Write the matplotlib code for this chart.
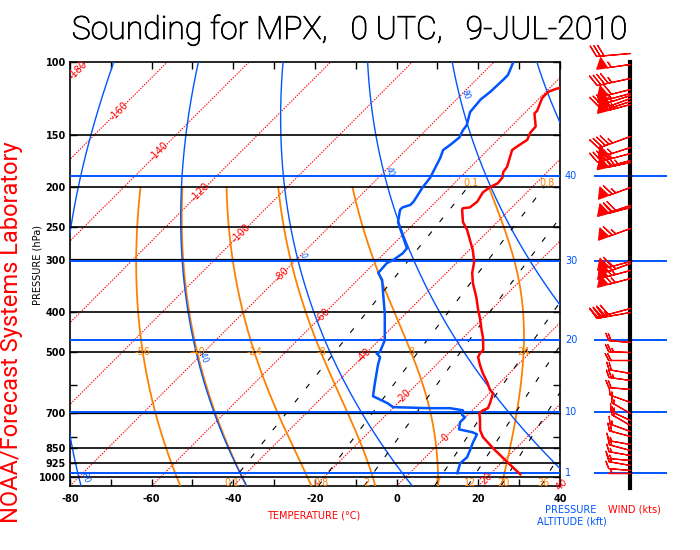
import numpy as np
import matplotlib
matplotlib.use("Agg")
import matplotlib.pyplot as plt
import matplotlib.patheffects as pe

# ------------------------------------------------------------------ data
temp_p = [984, 900, 852, 801, 771, 721, 701, 690, 682, 664, 628, 617, 590, 562,
          537, 514, 503, 494, 463, 443, 414, 396, 368, 341, 322, 303, 284, 254,
          243, 227, 225, 224, 217, 206, 200, 196, 190, 184, 179, 163, 161, 154,
          148, 143, 133, 131, 122, 118, 116, 114]
temp_c = [27.4, 19.3, 14.4, 9.2, 6.8, 3.8, 2.4, 2.6, 3.3, 2.6, 0.9, -0.6, -3.3, -6.5,
          -9.2, -11.6, -12.1, -12.1, -15.0, -17.3, -20.7, -23.1, -26.8, -31.0, -33.7,
          -35.9, -39.1, -45.4, -48.4, -51.6, -51.8, -50.3, -49.9, -50.8, -50.3, -49.4,
          -49.6, -50.8, -51.1, -54.0, -53.8, -52.8, -53.8, -54.0, -57.5, -57.5, -59.4,
          -59.4, -58.2, -55.5]

dwpt_p = [978, 926, 895, 861, 824, 788, 779, 767, 737, 717, 709, 690, 682, 682,
          678, 664, 638, 594, 537, 514, 503, 500, 468, 403, 360, 335, 322, 305,
          300, 289, 281, 243, 227, 224, 221, 217, 200, 190, 170, 163, 158, 152,
          146, 142, 132, 123, 118, 110.5, 107.5, 100.6]
dwpt_c = [11.7, 10.0, 10.2, 9.2, 8.0, 7.0, 5.3, 1.4, -0.1, -0.1, -1.3, -2.3, -6.0, -10.9,
          -20.2, -22.4, -27.8, -30.5, -34.2, -35.6, -37.4, -36.9, -38.6, -45.2, -50.6,
          -54.0, -56.7, -57.0, -56.2, -55.5, -55.7, -64.3, -66.8, -66.8, -65.5, -65.5,
          -66.8, -67.3, -69.7, -70.9, -70.4, -70.0, -70.9, -71.2, -73.6, -74.1, -73.6,
          -73.4, -73.4, -75.1]

wind_p = [95, 101, 109, 116, 119, 120, 122, 124, 126, 151, 160, 166, 172, 174, 200,
          221, 224, 251, 302, 305, 317, 332, 392, 400, 473, 500, 523, 562, 584, 612,
          660, 700, 730, 750, 775, 795, 830, 860, 885, 910, 935, 960, 978]
wind_dir = [265, 262, 258, 256, 255, 252, 250, 252, 255, 250, 252, 255, 255, 258, 250,
            252, 255, 250, 255, 250, 255, 255, 255, 260, 275, 272, 270, 280, 278, 275,
            290, 300, 295, 300, 290, 285, 280, 285, 280, 275, 280, 275, 270]
wind_spd = [30, 55, 45, 60, 55, 45, 50, 60, 65, 45, 55, 45, 55, 75, 65,
            70, 60, 65, 60, 70, 65, 65, 40, 35, 20, 25, 20, 20, 25, 20,
            15, 15, 15, 20, 15, 20, 15, 20, 15, 15, 15, 10, 5]

p_levels = [100, 150, 200, 250, 300, 400, 500, 700, 850, 925, 1000]
p_lines = [150, 200, 250, 300, 400, 500, 700, 850, 925, 1000]
p_minor = [600, 800]
t_ticks = [-80, -60, -40, -20, 0, 20, 40]

isotherms = list(range(-200, 41, 20))
dry_theta = [-80, -40, 0, 40, 80, 120]
dry_lab_theta = [-80, -40, 0, 40, 80]
dry_lab_p = [1000, 514, 292, 184, 120]
moist_thw = [-56, -40, -24, -8, 8, 24]
mix_r = [0.1, 0.8, 2, 7, 12, 20, 36]
mix_lab = ["0.1", "0.8", "2", "7", "12", "20", "36"]
mix_top = ["0.1", "0.8"]

alt_kft = ["1", "10", "20", "30", "40"]
alt_p = [977, 697, 466, 301, 188]

# ------------------------------------------------------------------ helpers
PBOT, PTOP = 1050.0, 100.0
K = 44.16  # skew: degC per ln(p) unit so isotherms are at 45 deg

RED = "#ff0000"
BLUE = "#0055ff"
ORANGE = "#ff8000"
SANS = ["Roboto", "Open Sans", "Lato", "DejaVu Sans"]


def skx(t, p):
    return np.asarray(t, float) + K * np.log(PBOT / np.asarray(p, float))


def es(tc):
    return 6.112 * np.exp(17.67 * tc / (tc + 243.5))


def td_from_r(r_gkg, p):
    r = r_gkg / 1000.0
    e = p * r / (0.622 + r)
    lg = np.log(e / 6.112)
    return 243.5 * lg / (17.67 - lg)


def moist_profile(thw, p_end):
    Rd, cp, Lv, eps = 287.04, 1005.7, 2.501e6, 0.622

    def dtdp(p, T):
        e = es(T - 273.15)
        rs = eps * e / (p - e)
        num = (Rd * T + Lv * rs) / p
        den = cp + Lv * Lv * rs * eps / (Rd * T * T)
        return num / den

    def run(p0, p1, step):
        ps = [p0]
        Ts = [thw + 273.15]
        p, T = p0, thw + 273.15
        n = int(abs(p1 - p0) / abs(step))
        for _ in range(n):
            k1 = dtdp(p, T)
            k2 = dtdp(p + step / 2, T + step / 2 * k1)
            k3 = dtdp(p + step / 2, T + step / 2 * k2)
            k4 = dtdp(p + step, T + step * k3)
            T = T + step / 6 * (k1 + 2 * k2 + 2 * k3 + k4)
            p = p + step
            ps.append(p)
            Ts.append(T)
        return np.array(ps), np.array(Ts) - 273.15

    pu, tu = run(1000.0, p_end, -2.0)
    pd, td = run(1000.0, PBOT, 2.0)
    return np.concatenate([pd[::-1], pu[1:]]), np.concatenate([td[::-1], tu[1:]])


# ------------------------------------------------------------------ figure
fig = plt.figure(figsize=(7, 5.5), dpi=100)
fig.patch.set_facecolor("white")
W, H = 700.0, 550.0

ax = fig.add_axes([70 / W, (H - 486) / H, 490 / W, 424 / H])
ax.set_yscale("log")
ax.set_ylim(PBOT, PTOP)
ax.set_xlim(-80, 40)

pp = np.geomspace(PBOT, PTOP, 200)

# isotherms (red dotted)
for t in isotherms:
    ax.plot(skx([t, t], [PBOT, PTOP]), [PBOT, PTOP], color=RED, lw=0.8,
            ls=(0, (1.2, 1.2)), zorder=2)
    ylab = (70 + (t + 80) * 490 / 120 + 478) / 2.0
    plab = 1040.0 if t == 40 else 100 * np.exp((ylab - 62) / 180.32)
    if 103 <= plab <= PBOT:
        ax.text(skx(t, plab), plab, f"{t}", color=RED, fontsize=7,
                rotation=45, ha="center", va="center", zorder=6, clip_on=False)

# moist adiabats (orange)
for thw in moist_thw:
    mp, mt = moist_profile(thw, 200.0)
    ax.plot(skx(mt, mp), mp, color=ORANGE, lw=1.3, zorder=3)
    i5 = np.argmin(np.abs(mp - 500))
    ax.text(skx(mt[i5], 500), 500, f"{thw}", color=ORANGE, fontsize=7,
            ha="center", va="center", zorder=6)

# dry adiabats (blue)
for th in dry_theta:
    tt = (th + 273.15) * (pp / 1000.0) ** 0.2857 - 273.15
    ax.plot(skx(tt, pp), pp, color=BLUE, lw=1.0, zorder=3)
for th, pl in zip(dry_lab_theta, dry_lab_p):
    tl = (th + 273.15) * (pl / 1000.0) ** 0.2857 - 273.15
    ax.text(skx(tl, pl) + 1.5, pl, f"{th}", color=BLUE, fontsize=5.5,
            rotation=-70, ha="center", va="center", zorder=6)

# mixing ratio lines (black dashed)
pm = np.geomspace(PBOT, 200, 100)
for r, lab in zip(mix_r, mix_lab):
    ax.plot(skx(td_from_r(r, pm), pm), pm, color="black", lw=0.8,
            ls=(0, (5, 11)), zorder=3)
    ax.text(skx(td_from_r(r, 1030), 1030), 1030, lab, color=ORANGE,
            fontsize=7, ha="center", va="center", zorder=6)
    if lab in mix_top:
        ax.text(skx(td_from_r(r, 196), 196), 196, lab, color=ORANGE,
                fontsize=7, ha="center", va="center", zorder=6)

# pressure lines
for p in p_lines:
    ax.axhline(p, color="black", lw=1.6 if p in (300, 700) else 1.2, zorder=4)

# altitude lines (blue) in plot
for p in alt_p:
    ax.axhline(p, color=BLUE, lw=1.4, zorder=4.5)

# sounding
ax.plot(skx(temp_c, temp_p), temp_p, color=RED, lw=1.8, zorder=7)
ax.plot(skx(dwpt_c, dwpt_p), dwpt_p, color=BLUE, lw=1.8, zorder=7)

# axes cosmetics
ax.set_yticks(p_levels)
ax.set_yticklabels([str(p) for p in p_levels], fontweight="bold")
ax.set_yticks(p_minor, minor=True)
ax.yaxis.set_minor_formatter(matplotlib.ticker.NullFormatter())
ax.set_xticks(t_ticks)
ax.set_xticklabels([str(t) for t in t_ticks], fontweight="bold")
ax.set_xticks(np.arange(-70, 40, 20), minor=True)
ax.tick_params(axis="both", which="both", direction="in", top=True, right=True,
               length=5, width=1, labelsize=7, pad=3)
ax.tick_params(axis="x", which="major", pad=6)
for s in ax.spines.values():
    s.set_linewidth(1.2)

# ------------------------------------------------------------------ wind panel
wax = fig.add_axes([560 / W, (H - 486) / H, 140 / W, 424 / H])
wax.set_xlim(-70, 70)
wax.set_ylim(-np.log(PBOT), -np.log(PTOP))
wax.axis("off")
wax.plot([0, 0], [-np.log(1060), -np.log(PTOP)], color="black", lw=3,
         clip_on=False, zorder=3)
for p in alt_p:
    wax.plot([-35, 36], [-np.log(p), -np.log(p)], color=BLUE, lw=1.4, zorder=2)

wd = np.radians(wind_dir)
ws = np.asarray(wind_spd, float)
u = -ws * np.sin(wd)
v = -ws * np.cos(wd)
wy = -np.log(np.asarray(wind_p, float))
for i in range(len(ws)):
    L = 7.0 if ws[i] >= 30 else 5.6
    wax.barbs([0], [wy[i]], [u[i]], [v[i]], length=L, color=RED, lw=0.9,
              sizes=dict(spacing=0.11, height=0.32, width=0.32),
              clip_on=False, zorder=4)

# ------------------------------------------------------------------ texts
def ftext(x, y, s, **kw):
    return fig.text(x / W, 1 - y / H, s, **kw)


ttl = ftext(350, 30, "Sounding for MPX,   0 UTC,   9-JUL-2010", fontsize=23,
            ha="center", va="center", color="black", family=SANS, weight="light")
ttl.set_path_effects([pe.withStroke(linewidth=0.6, foreground="black")])
ftext(12, 332, "NOAA/Forecast Systems Laboratory", fontsize=17, color=RED,
      rotation=90, ha="center", va="center", family=SANS, weight="normal")
ftext(37, 265, "PRESSURE (hPa)", fontsize=7, rotation=90, ha="center",
      va="center", color="black")
ftext(314, 515, "TEMPERATURE (\u00b0C)", fontsize=7, color=RED, ha="center",
      va="center")
ftext(545, 510, "PRESSURE", fontsize=7, color=BLUE, ha="left", va="center")
ftext(608, 510, "WIND (kts)", fontsize=7, color=RED, ha="left", va="center")
ftext(537, 522, "ALTITUDE (kft)", fontsize=7, color=BLUE, ha="left", va="center")

for lab, p in zip(alt_kft, alt_p):
    y = 62 + 180.32 * np.log(p / 100.0)
    ftext(565, y, lab, fontsize=7, color=BLUE, ha="left", va="center")

fig.savefig("out.png", dpi=100, facecolor="white")
